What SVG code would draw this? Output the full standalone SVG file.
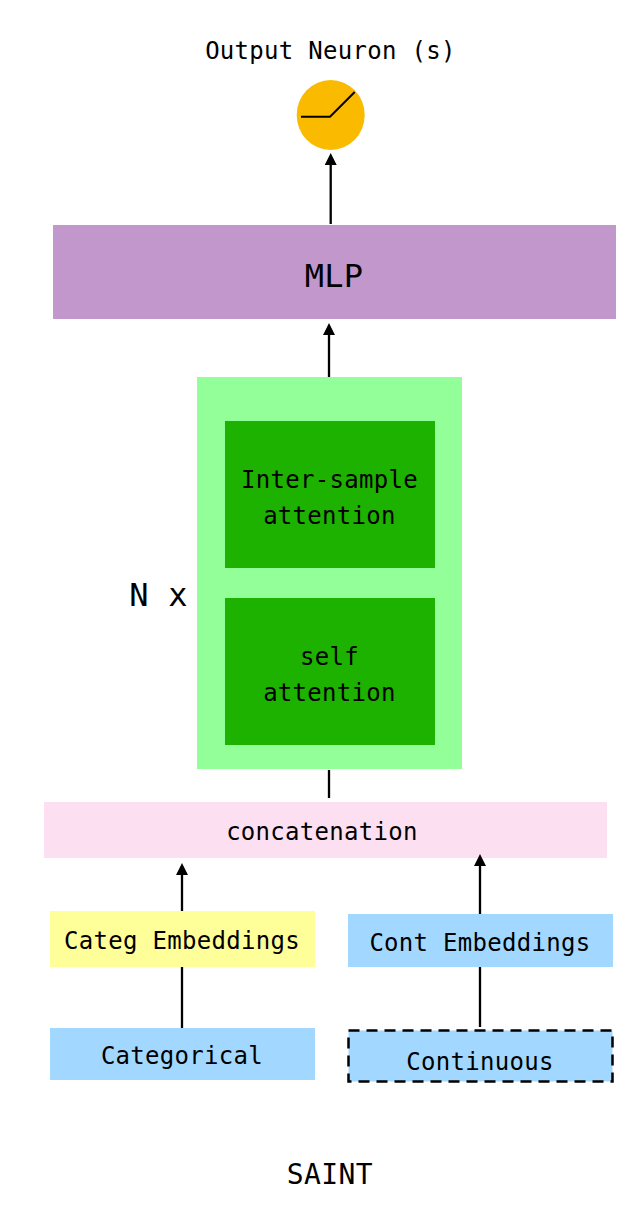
<svg xmlns="http://www.w3.org/2000/svg" width="636" height="1232" viewBox="0 0 636 1232">
<style>
text{font-family:"DejaVu Sans Mono","Liberation Mono",monospace;font-size:24px;letter-spacing:.3px;fill:#000;text-anchor:middle}
.big{font-size:32px;letter-spacing:.2px}
.mid{font-size:28px;letter-spacing:.4px}
.c{fill:none;stroke:#000;stroke-width:2.300}
.h{fill:#000}
</style>
<rect width="636" height="1232" fill="#fff"/>
<g id="title"><text x="330.500" y="59">Output Neuron (s)</text></g>
<g id="neuron"><ellipse cx="330.700" cy="115" rx="34" ry="35" fill="#f9ba00"/><path d="M301 116.700H330L354.700 92" fill="none" stroke="#000" stroke-width="2"/></g>
<g id="mlp"><rect x="53" y="225" width="563" height="94" fill="#c197cc"/><text class="big" x="334" y="287">MLP</text></g>
<g id="block"><rect x="197" y="377" width="265" height="392" fill="#92ff99"/></g>
<g id="inter"><rect x="225" y="421" width="210" height="147" fill="#1eb200"/><text x="329.500" y="488">Inter-sample</text><text x="329.500" y="524">attention</text></g>
<g id="self"><rect x="225" y="598" width="210" height="147" fill="#1eb200"/><text x="329.500" y="665">self</text><text x="329.500" y="701">attention</text></g>
<g id="nx"><text class="big" x="158.500" y="606">N x</text></g>
<g id="concat"><rect x="44" y="802" width="563" height="56" fill="#fce0f1"/><text x="322" y="840">concatenation</text></g>
<g id="categ-emb"><rect x="50" y="911" width="265" height="56" fill="#ffff99"/><text x="182" y="949">Categ Embeddings</text></g>
<g id="cont-emb"><rect x="348" y="914" width="265" height="53" fill="#a2d8ff"/><text x="480" y="951">Cont Embeddings</text></g>
<g id="categorical"><rect x="50" y="1028" width="265" height="52" fill="#a2d8ff"/><text x="182" y="1064">Categorical</text></g>
<g id="continuous"><rect x="348.500" y="1030.500" width="264" height="51" fill="#a2d8ff" stroke="#000" stroke-width="2.500" stroke-dasharray="11 7"/><text x="480" y="1070">Continuous</text></g>
<g id="caption"><text class="mid" x="330" y="1184">SAINT</text></g>
<g id="connectors">
<path class="c" d="M330.700 224V164M329 377V335M329 770V798M182 911V875M182 967V1028M480 914V866M480 967V1027"/>
<path class="h" d="M330.700 153L336.700 165H324.700ZM329 323L335 335H323ZM182 863L188 875H176ZM480 854L486 866H474Z"/>
</g>
</svg>
